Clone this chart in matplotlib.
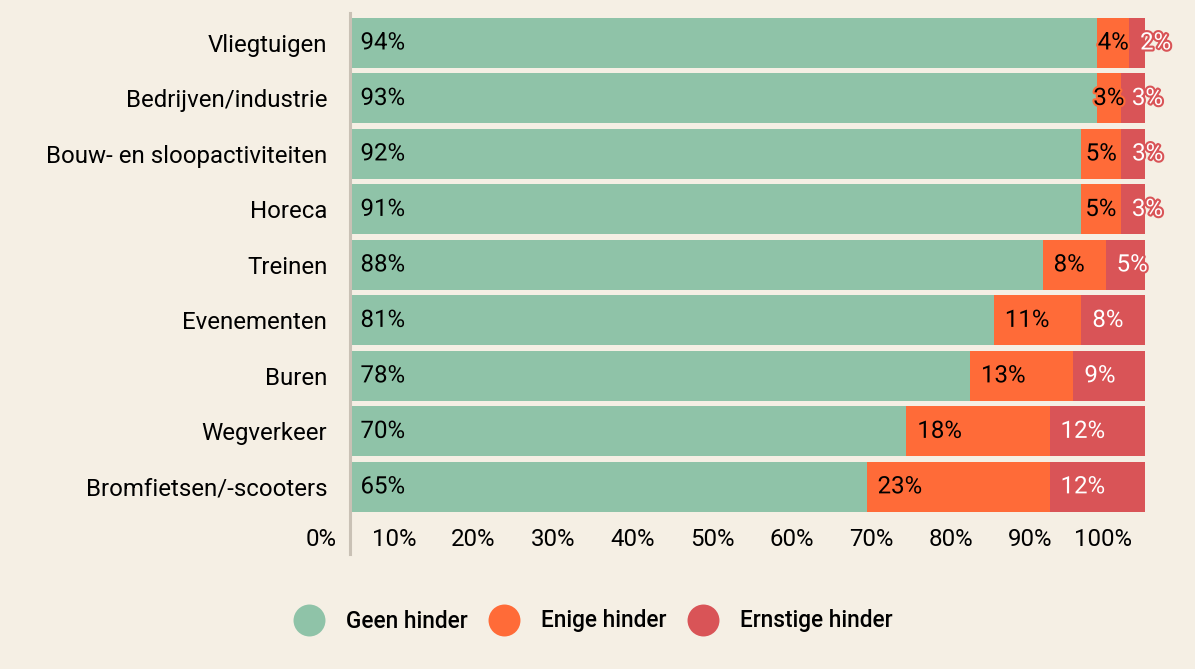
import matplotlib
matplotlib.use("Agg")
import matplotlib.pyplot as plt
import matplotlib.patheffects as pe
from matplotlib.lines import Line2D
from matplotlib.transforms import ScaledTranslation
import numpy as np

plt.rcParams['font.family'] = ['Roboto', 'DejaVu Sans']

categories = ['Vliegtuigen', 'Bedrijven/industrie', 'Bouw- en sloopactiviteiten', 'Horeca',
              'Treinen', 'Evenementen', 'Buren', 'Wegverkeer', 'Bromfietsen/-scooters']
geen = [94, 93, 92, 91, 88, 81, 78, 70, 65]
enige = [4, 3, 5, 5, 8, 11, 13, 18, 23]
ernstig = [2, 3, 3, 3, 5, 8, 9, 12, 12]
series_names = ['Geen hinder', 'Enige hinder', 'Ernstige hinder']
colors = ['#8fc3a8', '#ff6b38', '#d95457']
text_colors = ['black', 'black', 'white']
ticks = list(range(0, 101, 10))

bg = '#f5efe4'
fs = 17.3
W, H = 1195, 669
fig = plt.figure(figsize=(W / 100, H / 100), dpi=100, facecolor=bg)
ax = fig.add_axes([349.5 / W, 1 - 554 / H, 795.5 / W, 541 / H])
ax.set_facecolor(bg)

data = np.array([geen, enige, ernstig], dtype=float)
totals = data.sum(axis=0)
shares = data / totals * 100  # bars fill the full width
y = np.arange(len(categories))

left = np.zeros(len(categories))
for k in range(3):
    ax.barh(y, shares[k], left=left, height=0.9, color=colors[k], linewidth=0)
    for i in range(len(categories)):
        txt = f"{int(data[k, i])}%"
        fx = [pe.withStroke(linewidth=3, foreground=colors[k])]
        if k == 1 and shares[k, i] < 7:
            ax.text(left[i] + shares[k, i] / 2, y[i], txt, ha='center', va='center',
                    fontsize=fs, color=text_colors[k], path_effects=fx)
        else:
            tr = ax.transData + ScaledTranslation(11 / 100, 0, fig.dpi_scale_trans)
            ax.text(left[i], y[i], txt, ha='left', va='center', fontsize=fs,
                    color=text_colors[k], transform=tr, path_effects=fx, clip_on=False)
    left += shares[k]

ax.set_xlim(0, 100)
ax.set_ylim(len(categories) - 1 + 1.21, -0.54)

ax.set_yticks(y)
ax.set_yticklabels(categories, fontsize=fs)
ax.tick_params(axis='y', length=0, pad=16)
ax.set_xticks([])

# tick labels sit inside the plot area, right aligned just before the tick
xtr = ax.get_xaxis_transform() + ScaledTranslation(-13 / 100, 0, fig.dpi_scale_trans)
for t in ticks:
    ax.text(t, 0.026, f"{t}%", ha='right', va='center', fontsize=fs, transform=xtr)

for s in ['top', 'right', 'bottom']:
    ax.spines[s].set_visible(False)
ax.spines['left'].set_color('#c9c1b5')
ax.spines['left'].set_linewidth(2.2)
ax.spines['left'].set_zorder(5)

handles = [Line2D([], [], marker='o', linestyle='none', markersize=23,
                  markerfacecolor=c, markeredgewidth=0) for c in colors]
fig.legend(handles, series_names, loc='center', bbox_to_anchor=(593 / W, 1 - 621 / H),
           ncol=3, frameon=False, prop={'size': 16.3, 'weight': 'medium'},
           handlelength=1.4, handletextpad=0.95, columnspacing=0.9)

fig.savefig('out.png', dpi=100, facecolor=bg)
